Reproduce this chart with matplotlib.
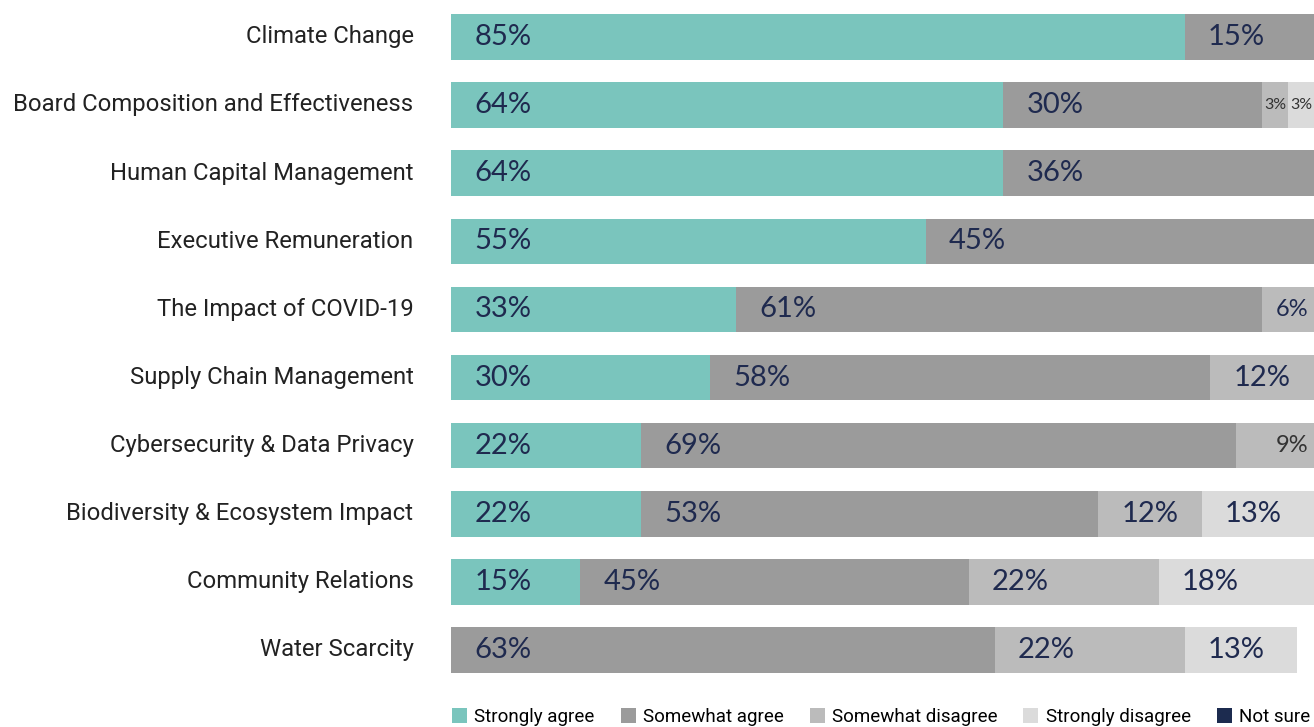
import matplotlib
matplotlib.use("Agg")
import matplotlib.pyplot as plt
from matplotlib.patches import Patch
import numpy as np

topics = ["Climate Change", "Board Composition and Effectiveness", "Human Capital Management",
          "Executive Remuneration", "The Impact of COVID-19", "Supply Chain Management",
          "Cybersecurity & Data Privacy", "Biodiversity & Ecosystem Impact",
          "Community Relations", "Water Scarcity"]
series = ["Strongly agree", "Somewhat agree", "Somewhat disagree", "Strongly disagree", "Not sure"]

strongly_agree = [85, 64, 64, 55, 33, 30, 22, 22, 15, 0]
somewhat_agree = [15, 30, 36, 45, 61, 58, 69, 53, 45, 63]
somewhat_disagree = [0, 3, 0, 0, 6, 12, 9, 12, 22, 22]
strongly_disagree = [0, 3, 0, 0, 0, 0, 0, 13, 18, 13]
not_sure = [0, 0, 0, 0, 0, 0, 0, 0, 0, 0]

colors = ["#7ac5bd", "#9b9b9b", "#bbbbbb", "#dbdbdb", "#1c2b4f"]
NAVY = "#1f2a4f"
VALFONT = ["Lato", "DejaVu Sans"]

fig = plt.figure(figsize=(13.14, 7.27), dpi=100)
ax = fig.add_axes([451 / 1314, 1 - 684 / 727, 1 - 451 / 1314, 681 / 727])

data = [strongly_agree, somewhat_agree, somewhat_disagree, strongly_disagree, not_sure]
y = np.arange(len(topics))
left = np.zeros(len(topics))
for vals, col in zip(data, colors):
    vals = np.array(vals, dtype=float)
    ax.barh(y, vals, left=left, height=0.67, color=col, linewidth=0)
    for i, v in enumerate(vals):
        if v <= 0:
            continue
        if v < 5:
            ax.text(left[i] + 0.2, i, f"{v:.0f}%", fontsize=11.5, color="#333333",
                    va="center", ha="left", family=VALFONT)
        elif v < 10:
            ax.text(left[i] + v - 0.6, i, f"{v:.0f}%", fontsize=17,
                    color=NAVY if v < 8 else "#333333", va="center", ha="right",
                    family=VALFONT)
        else:
            ax.text(left[i] + 2.7, i, f"{v:.0f}%", fontsize=21, color=NAVY,
                    va="center", ha="left", family=VALFONT)
    left += vals

ax.set_xlim(0, 100)
ax.set_ylim(len(topics) - 0.5, -0.5)
ax.set_yticks(y - 0.04)
ax.set_yticklabels(topics, fontsize=17.2, color="#222222", family=["Roboto", "DejaVu Sans"])
ax.tick_params(axis="y", length=0, pad=27)
ax.set_xticks([])
for s in ax.spines.values():
    s.set_visible(False)

handles = [Patch(facecolor=c, edgecolor="none") for c in colors]
fig.legend(handles, series, loc="center left", bbox_to_anchor=(452 / 1314, 10 / 727),
           ncol=5, frameon=False, handlelength=0.8, handleheight=0.8,
           handletextpad=0.4, columnspacing=1.37, borderpad=0, borderaxespad=0,
           prop={"family": ["Roboto", "DejaVu Sans"], "size": 13.5})

fig.savefig("out.png", dpi=100)
